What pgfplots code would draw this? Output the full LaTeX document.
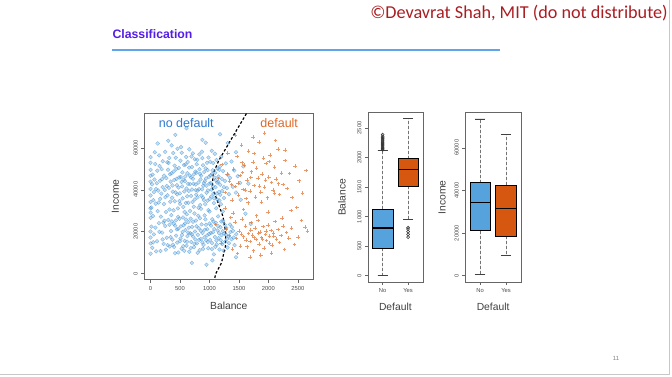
\documentclass[border=0pt]{standalone}
\usepackage{pgfplots}
\pgfplotsset{compat=1.18}
\usepgfplotslibrary{statistics}
\usepackage{fontspec}
\setmainfont{Liberation Sans}
\newfontfamily\calibri{Carlito}

\definecolor{ptblue}{RGB}{70,150,215}
\definecolor{ptorange}{RGB}{225,110,40}
\definecolor{boxblue}{RGB}{86,162,220}
\definecolor{boxorange}{RGB}{214,88,16}
\definecolor{titleblue}{RGB}{85,30,230}
\definecolor{lineblue}{RGB}{95,165,232}
\definecolor{copyred}{RGB}{170,30,35}
\definecolor{nodefblue}{RGB}{45,120,205}
\definecolor{deforange}{RGB}{222,105,40}

\pgfplotsset{
 rstyle/.style={
   scale only axis,
   axis line style={black!60, line width=0.5pt},
   tick style={black!60, line width=0.4pt},
   tick align=outside,
   major tick length=3pt,
   tick pos=left,
   ticklabel style={font=\fontsize{5.8}{6}\selectfont, text=black!70},
   /pgf/number format/assume math mode=true,
   /pgf/number format/1000 sep={},
   scaled ticks=false,
   label style={font=\fontsize{10.3}{12}\selectfont, text=black!75},
   yticklabel style={rotate=90, anchor=south},
   boxplot/draw/lower whisker/.code={%
     \draw[densely dashed, black!55, line width=0.4pt] (boxplot cs:\pgfplotsboxplotvalue{lower quartile}) -- (boxplot cs:\pgfplotsboxplotvalue{lower whisker});
     \draw[black!75, line width=0.5pt] (boxplot box cs:\pgfplotsboxplotvalue{lower whisker},0.25) -- (boxplot box cs:\pgfplotsboxplotvalue{lower whisker},0.75);
   },
   boxplot/draw/upper whisker/.code={%
     \draw[densely dashed, black!55, line width=0.4pt] (boxplot cs:\pgfplotsboxplotvalue{upper quartile}) -- (boxplot cs:\pgfplotsboxplotvalue{upper whisker});
     \draw[black!75, line width=0.5pt] (boxplot box cs:\pgfplotsboxplotvalue{upper whisker},0.25) -- (boxplot box cs:\pgfplotsboxplotvalue{upper whisker},0.75);
   },
   boxplot/every median/.style={line width=1.6pt, draw=black},
 }
}

\begin{document}
\begin{tikzpicture}[x=1pt,y=1pt]
\fill[white] (0,0) rectangle (672,376);
\draw[black!22, line width=0.8pt] (0,2) -- (669,2) -- (669,376);
\node[anchor=east, inner sep=0pt, font=\calibri\fontsize{18.2}{20}\selectfont, text=copyred] at (668,363) {©Devavrat Shah, MIT (do not distribute)};
\node[anchor=west, inner sep=0pt, font=\bfseries\fontsize{12.3}{14}\selectfont, text=titleblue] at (112,342) {Classification};
\draw[lineblue, line width=2pt] (112,326) -- (500,326);
\node[font=\fontsize{6}{7}\selectfont, text=black!50] at (616,18) {11};

% ---------- scatter ----------
\begin{axis}[rstyle, at={(144pt,96.5pt)}, anchor=south west,
  width=169pt, height=166.5pt,
  xmin=-106, xmax=2760, ymin=-2.94, ymax=76.5,
  xtick={0,500,1000,1500,2000,2500},
  ytick={0,20,40,60}, yticklabels={0,20000,40000,60000},
  xlabel={Balance}, ylabel={Income},
  xlabel style={at={(axis description cs:0.5,-0.157)}, anchor=center},
  ylabel style={at={(axis description cs:-0.172,0.5)}, anchor=center},
  clip=true]
\addplot[only marks, mark=*, mark size=1.9pt, mark options={fill=ptblue, fill opacity=0.3, draw=ptblue, draw opacity=0.65, line width=0.35pt}] coordinates {
(12,31.5)(35,47.2)(58,38.9)(80,52.3)(104,43.1)(121,29.8)(145,56.4)(163,35.7)(188,49.9)(205,41.3)(226,33.2)(249,58.1)(268,45.6)(287,37.4)(306,52.8)(322,30.6)(341,43.9)(359,61.2)(377,39.1)(394,48.7)(410,34.5)(428,55.3)(445,42.2)(463,31.1)(480,50.4)(497,38.3)(512,46.1)(529,57.7)(545,35.9)(561,44.8)(578,29.4)(594,52.1)(609,40.6)(625,47.9)(641,33.8)(657,59.3)(672,42.7)(688,37.1)(703,50.9)(719,45.3)(734,31.9)(750,54.6)(765,39.8)(781,48.2)(796,36.4)(812,43.5)(827,56.9)(843,32.7)(858,46.8)(874,40.2)(889,51.7)(905,35.1)(920,44.1)(936,62.5)(951,38.6)(967,49.4)(982,30.3)(998,42.9)(1013,53.4)(1029,36.8)(1044,47.5)(1060,41.7)(1075,33.6)(1091,57.2)(1106,44.6)(1122,38.2)(1137,50.1)(1153,46.3)(1168,34.9)(1184,42.4)(1199,55.8)(1215,39.5)(1230,48.9)(1246,36.1)(1262,44.2)(1278,52.6)(1295,40.8)(1312,47.1)(1330,37.9)(1350,45.7)(1372,53.5)(1395,41.4)(1420,49.2)(1448,38.7)(1480,46.5)(1520,43.3)(1575,51.2)
(25,42.6)(48,35.1)(70,57.9)(92,40.4)(115,49.1)(138,33.9)(160,44.3)(183,38.2)(207,53.6)(230,46.7)(252,36.5)(275,41.8)(297,49.6)(318,55.2)(336,34.3)(355,47.9)(372,42.1)(390,30.2)(408,51.5)(425,38.8)(441,45.2)(458,59.6)(475,41.1)(491,34.6)(507,53.9)(524,43.7)(540,48.3)(556,31.8)(573,39.2)(589,46.4)(605,55.7)(621,36.9)(637,42.8)(654,50.6)(670,29.9)(686,45.9)(702,40.1)(718,57.4)(734,47.3)(750,35.4)(766,42.5)(782,52.2)(798,39.6)(814,31.4)(830,49.8)(846,44.9)(862,37.2)(878,55.1)(894,41.9)(910,48.5)(926,33.1)(942,45.4)(958,52.9)(974,39.7)(990,46.2)(1006,35.6)(1022,43.2)(1038,58.6)(1054,49.3)(1070,38.1)(1086,45.8)(1102,41.2)(1118,54.2)(1134,35.3)(1150,43.8)(1166,49.6)(1182,37.6)
(15,22.4)(40,27.5)(65,44.9)(88,33.4)(130,39.6)(152,51.3)(175,27.2)(198,45.1)(218,24.3)(240,39.9)(262,29.4)(283,53.1)(310,40.9)(330,47.4)(352,27.9)(366,36.2)(385,57.6)(402,44.7)(418,22.9)(436,49.9)(452,37.8)(468,27.1)(486,45.9)(502,33.3)(518,60.4)(535,41.6)(551,26.8)(567,51.8)(583,44.1)(599,33.7)(615,28.3)(631,53.3)(648,39.4)(664,46.8)(680,26.2)(696,55.9)(712,34.2)(728,42.9)(744,28.7)(760,48.7)(776,37.6)(792,54.3)(808,27.6)(824,40.3)(840,47.6)(856,30.9)(872,58.2)(888,36.3)(904,43.2)(918,27.8)(934,50.2)(950,41.9)(966,34.8)(984,55.4)(1000,29.6)(1016,46.9)(1032,40.1)(1048,25.9)(1064,52.8)(1080,35.9)(1098,48.1)(1114,31.2)(1130,43.4)(1146,27.3)(1162,38.9)(1178,51.1)(1196,33.1)(1212,45.2)(1228,29.7)(1244,41.3)
(30,12.3)(55,18.7)(82,21.9)(110,15.4)(140,24.1)(168,10.8)(196,19.6)(222,14.2)(250,22.7)(276,17.1)(301,25.6)(325,12.9)(348,20.3)(370,16.2)(392,23.8)(413,9.7)(433,18.1)(452,14.8)(471,21.4)(490,26.2)(508,16.7)(526,11.9)(543,19.9)(560,23.1)(577,15.6)(594,20.8)(610,13.3)(626,17.9)(642,24.6)(658,10.4)(674,19.2)(690,15.1)(706,22.3)(722,17.6)(738,12.6)(754,20.1)(770,25.3)(786,14.4)(802,18.5)(818,21.6)(834,11.2)(850,16.5)(866,23.5)(882,19.4)(898,13.7)(914,17.3)(930,25.9)(946,15.9)(962,21.2)(978,12.1)(994,18.9)(1010,16.1)(1026,22.9)(1042,14.6)(1058,19.7)(1074,9.2)(1090,17.5)(1106,24.3)(1122,13.9)(1138,20.6)(1154,16.9)(1170,11.5)(1186,22.1)(1202,18.3)(1218,14.1)(1234,25.1)(1250,19.1)(1268,15.3)(1286,21.8)(1305,12.4)(1325,17.7)(1348,23.4)(1372,16.4)(1398,20.4)(1425,13.6)(1455,18.8)
(260,11.4)(320,23.3)(380,13.8)(430,25.4)(470,10.1)(515,22.5)(555,13.1)(600,25.8)(640,19.5)(680,12.2)(720,24.8)(760,16.3)(800,9.9)(840,26.4)(880,14.9)(920,20.9)(960,18.2)(1000,23.9)(1040,11.7)(1080,21.3)(1120,15.8)(1160,19.3)(1200,24.9)(1240,10.9)(1280,18.6)(1330,14.5)(1380,22.2)
(45,14.9)(95,10.6)(150,19.9)(205,16.3)(235,25.2)(290,13.6)(340,17.4)(360,24.9)(400,12.7)(445,21.1)(500,15.4)(535,18.4)(570,10.9)(585,23.9)(620,15.2)(650,21.9)(700,18.8)(745,14.2)(780,22.6)(825,16.1)(855,20.4)(890,11.8)(940,23.3)(970,15.1)(1020,19.4)(1065,24.8)(1100,12.8)(1145,22.7)(1190,15.9)(1225,20.2)(1260,23.3)(1300,16.6)(1355,19.8)(1410,17.2)
(0,9.5)(0,14.4)(0,26.6)(0,31.2)(0,46.7)(0,52.9)(0,37.3)(0,29.1)(0,34.2)(0,40.4)(0,43.8)(0,49.5)(0,55.6)(0,20.1)(0,17.2)
(700,5.1)(1050,6.3)(420,66.2)(610,69.4)(880,63.8)(1180,66.5)(1310,62.3)(1450,57.9)(1530,35.2)(1610,28.6)(1660,42.9)(1700,23.7)(300,63.4)(120,62.1)(950,4.2)(1450,7.8)
};
\addplot[only marks, mark=+, mark size=1.8pt, mark options={draw=ptorange, draw opacity=0.7, line width=0.55pt}] coordinates {
(1150,45.3)(1210,52.1)(1260,38.7)(1310,57.6)(1340,44.2)(1380,35.1)(1410,49.8)(1440,41.6)(1470,55.9)(1495,37.4)(1520,46.9)(1545,61.3)(1570,40.2)(1595,51.7)(1620,35.8)(1640,44.7)(1665,58.4)(1690,39.3)(1710,48.6)(1735,53.2)(1755,42.1)(1780,36.6)(1800,50.3)(1825,45.5)(1845,62.7)(1870,38.9)(1890,47.4)(1915,55.1)(1935,41.3)(1960,52.6)(1985,36.2)(2005,46.1)(2030,56.7)(2055,43.4)(2080,39.8)(2105,50.9)(2130,45.1)(2160,59.4)(2190,37.7)(2220,48.1)(2250,42.6)(2285,53.9)(2320,40.7)(2360,47.8)(2400,36.4)(2450,51.4)(2520,44.3)(2580,38.5)(2640,49.2)
(1480,43.1)(1560,48.2)(1610,39.9)(1700,45.9)(1760,57.3)(1850,41.8)(1950,44.6)(2010,53.5)(2100,38.4)(2170,42.9)(1370,42.5)(1650,33.8)(1880,34.2)(1550,52.9)(1740,65.3)(1930,67.1)(2120,63.6)(1430,66.2)(2280,58.9)(2480,31.5)(1300,47.6)
(1200,14.6)(1280,21.3)(1330,18.2)(1390,11.7)(1430,24.6)(1460,16.8)(1500,20.4)(1525,13.2)(1555,26.1)(1580,17.6)(1610,22.7)(1635,12.8)(1660,19.1)(1685,15.3)(1705,24.3)(1730,18.4)(1750,10.9)(1775,21.8)(1795,16.2)(1820,25.4)(1840,14.1)(1860,19.8)(1885,17.2)(1905,22.4)(1925,12.3)(1950,18.7)(1970,15.7)(1995,23.1)(2015,17.9)(2040,20.6)(2060,13.6)(2085,19.4)(2110,24.9)(2135,16.5)(2160,21.1)(2190,14.8)(2215,18.1)(2245,22.8)(2275,11.4)(2310,19.6)(2345,16.9)(2390,21.7)(2440,13.9)(2500,17.4)(2560,25.3)(2620,22.1)(2660,20.4)
(1540,18.9)(1620,16.1)(1700,20.9)(1760,17.1)(1830,19.3)(1900,16.4)(1960,20.2)(2020,14.5)(2090,17.7)(1360,26.8)(1475,9.6)(1690,7.8)(1870,8.9)(2050,9.8)(2230,26.5)(1400,28.9)(1580,30.5)(1990,29.4)(2380,30.1)(1260,31.2)(1800,27.6)(1100,23.5)
};
\addplot[black, line width=1.2pt, dash pattern=on 2.6pt off 2pt] coordinates {
(1627,76.4)(1387,65.0)(1158,54.0)(1063,47.7)(1046,41.1)(1130,35.0)(1230,27.1)(1275,19.3)(1270,12.9)(1203,5.1)(1102,-0.3)(1085,-3)
};
\node[text=nodefblue, font=\fontsize{12.5}{14}\selectfont] at (axis cs:606,71.7) {no default};
\node[text=deforange, font=\fontsize{12.5}{14}\selectfont] at (axis cs:2183,71.7) {default};
\end{axis}

% ---------- boxplot balance ----------
\begin{axis}[rstyle, at={(367.7pt,94.3pt)}, anchor=south west,
  width=55pt, height=169.4pt,
  xmin=0.42, xmax=2.58, ymin=-106, ymax=2760,
  xtick={1,2}, xticklabels={No,Yes},
  ytick={0,500,1000,1500,2000,2500},
  xlabel={Default}, ylabel={Balance},
  xlabel style={at={(axis description cs:0.5,-0.148)}, anchor=center},
  ylabel style={at={(axis description cs:-0.473,0.5)}, anchor=center},
  boxplot/draw direction=y, boxplot/box extend=0.8]
\addplot[boxplot prepared={draw position=1, lower whisker=0, lower quartile=468, median=811, upper quartile=1132, upper whisker=2123}, fill=boxblue, draw=black, line width=0.5pt, mark=o, mark size=1.5pt, mark options={draw=black!80, fill=none, line width=0.5pt}]
 coordinates {(1,2131)(1,2145)(1,2160)(1,2178)(1,2195)(1,2210)(1,2226)(1,2243)(1,2262)(1,2280)(1,2300)(1,2318)(1,2336)(1,2360)(1,2388)};
\addplot[boxplot prepared={draw position=2, lower whisker=958, lower quartile=1520, median=1797, upper quartile=1983, upper whisker=2659}, fill=boxorange, draw=black, line width=0.5pt, mark=o, mark size=1.5pt, mark options={draw=black!80, fill=none, line width=0.5pt}]
 coordinates {(2,652)(2,700)(2,745)(2,790)(2,815)};
\end{axis}

% ---------- boxplot income ----------
\begin{axis}[rstyle, at={(465pt,94.3pt)}, anchor=south west,
  width=56pt, height=169.4pt,
  xmin=0.42, xmax=2.58, ymin=-2.94, ymax=76.5,
  xtick={1,2}, xticklabels={No,Yes},
  ytick={0,20,40,60}, yticklabels={0,20000,40000,60000},
  xlabel={Default}, ylabel={Income},
  xlabel style={at={(axis description cs:0.5,-0.148)}, anchor=center},
  ylabel style={at={(axis description cs:-0.41,0.5)}, anchor=center},
  boxplot/draw direction=y, boxplot/box extend=0.8]
\addplot[boxplot prepared={draw position=1, lower whisker=0.77, lower quartile=21.1, median=34.4, upper quartile=43.6, upper whisker=73.6}, fill=boxblue, draw=black, line width=0.5pt] coordinates {};
\addplot[boxplot prepared={draw position=2, lower whisker=9.6, lower quartile=18.6, median=31.5, upper quartile=42.65, upper whisker=66.4}, fill=boxorange, draw=black, line width=0.5pt] coordinates {};
\end{axis}
\end{tikzpicture}
\end{document}
